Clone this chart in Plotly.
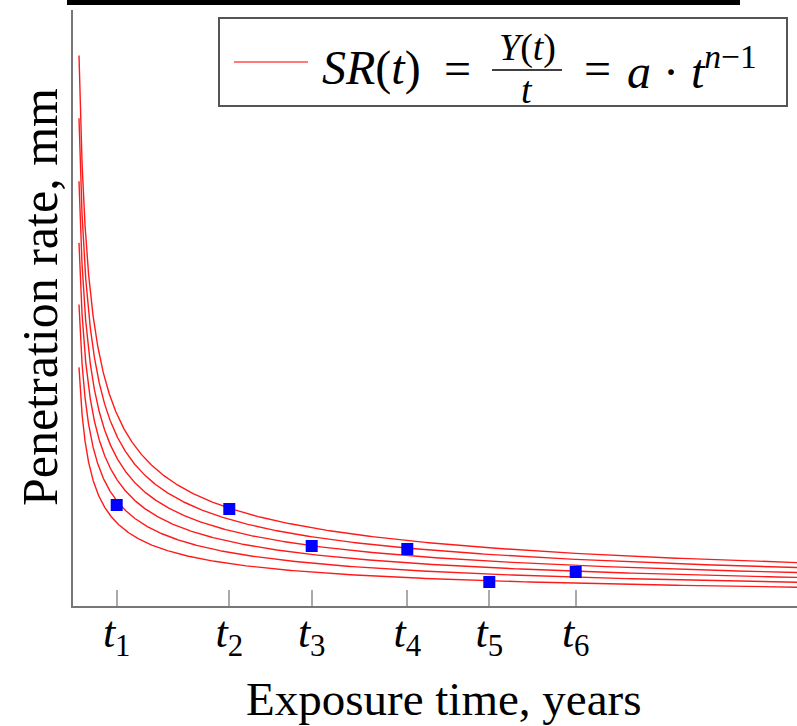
import numpy as np
import plotly.graph_objects as go

# Power-law penetration-rate model SR(t) = a * t^(n-1)
a_values = [4.20, 3.72, 3.24, 2.77, 2.30, 1.82]
n_exp = 0.47
t_start, t_end = 0.6, 72.4

# Inspection times and measured penetration rates
t_obs = [4.37, 15.63, 23.87, 33.43, 41.63, 50.27]
sr_obs = [1.01, 0.97, 0.60, 0.57, 0.24, 0.34]
tick_text = ["<i>t</i><sub>%d</sub>" % (i + 1) for i in range(len(t_obs))]

FONT = "Liberation Serif"
t_grid = np.geomspace(t_start, t_end, 500)

fig = go.Figure()
for a in a_values:
    fig.add_trace(go.Scatter(
        x=t_grid, y=a * t_grid ** (n_exp - 1), mode="lines",
        line=dict(color="#ff1a1a", width=1.4), showlegend=False,
        hoverinfo="skip"))

fig.add_trace(go.Scatter(
    x=t_obs, y=sr_obs, mode="markers",
    marker=dict(symbol="square", size=12, color="#0000ff",
                line=dict(width=0)),
    showlegend=False))

W, H = 797, 726
ml, mr, mt, mb = 73, 0, 10, 120
pw, ph = W - ml - mr, H - mt - mb


def px(x):
    return (x - ml) / pw


def py(y):
    return (H - mb - y) / ph


shapes = [
    # black band across the top
    dict(type="rect", xref="paper", yref="paper",
         x0=px(67), x1=px(740), y0=py(5), y1=py(-2),
         fillcolor="black", line=dict(width=0), layer="above"),
    # legend frame
    dict(type="rect", xref="paper", yref="paper",
         x0=px(219), x1=px(787), y0=py(106), y1=py(18),
         fillcolor="white", line=dict(color="#555555", width=2)),
    # legend line sample
    dict(type="line", xref="paper", yref="paper",
         x0=px(234), x1=px(308), y0=py(62), y1=py(62),
         line=dict(color="#ff4d4d", width=1.6)),
    # fraction bar
    dict(type="line", xref="paper", yref="paper",
         x0=px(492), x1=px(562), y0=py(70), y1=py(70),
         line=dict(color="black", width=1.6)),
]

ann = [
    dict(text="<i>SR</i>(<i>t</i>)", x=px(320), y=py(68),
         xanchor="left", yanchor="middle", font=dict(size=48)),
    dict(text="=", x=px(458), y=py(68),
         xanchor="center", yanchor="middle", font=dict(size=48)),
    dict(text="<i>Y</i>(<i>t</i>)", x=px(527), y=py(47),
         xanchor="center", yanchor="middle", font=dict(size=38)),
    dict(text="<i>t</i>", x=px(527), y=py(90),
         xanchor="center", yanchor="middle", font=dict(size=38)),
    dict(text="=", x=px(597), y=py(68),
         xanchor="center", yanchor="middle", font=dict(size=48)),
    dict(text="<i>a</i> · <i>t</i><sup><i>n</i>−1</sup>", x=px(625), y=py(68),
         xanchor="left", yanchor="middle", font=dict(size=48)),
    dict(text="Exposure time, years", x=px(443), y=py(699),
         xanchor="center", yanchor="middle", font=dict(size=47)),
    dict(text="Penetration rate, mm", x=px(40), y=py(297),
         xanchor="center", yanchor="middle", textangle=-90,
         font=dict(size=50)),
]
for a_ in ann:
    a_.update(xref="paper", yref="paper", showarrow=False)
    a_["font"].update(family=FONT, color="black")

fig.update_layout(
    width=W, height=H, autosize=False,
    margin=dict(l=ml, r=mr, t=mt, b=mb),
    paper_bgcolor="white", plot_bgcolor="white",
    font=dict(family=FONT, color="black"),
    shapes=shapes, annotations=ann,
    xaxis=dict(range=[0, t_end], showgrid=False, zeroline=False,
               showline=True, linecolor="#777777", linewidth=2,
               ticks="inside", ticklen=16, tickwidth=2, tickcolor="#aaaaaa",
               tickvals=t_obs, ticktext=tick_text,
               tickfont=dict(size=44, family=FONT, color="black"),
               ticklabelstandoff=-14),
    yaxis=dict(range=[0, 5.96], showgrid=False, zeroline=False,
               showline=True, linecolor="#777777", linewidth=2,
               ticks="", showticklabels=False),
)

fig.write_html("out.html")
